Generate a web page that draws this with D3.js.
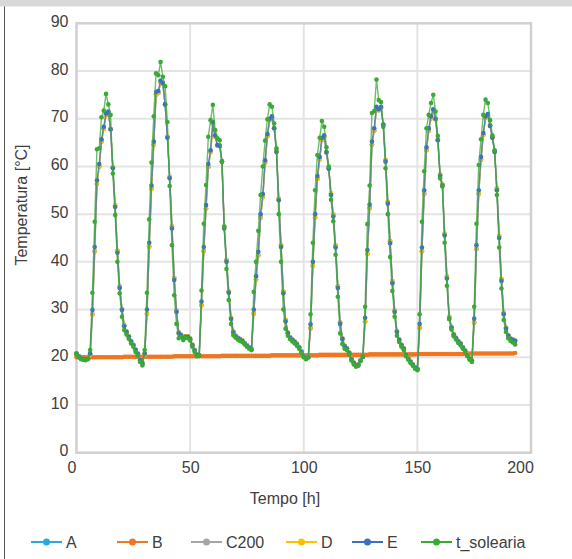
<!DOCTYPE html>
<html><head><meta charset="utf-8">
<script src="https://cdn.jsdelivr.net/npm/d3@7/dist/d3.min.js"></script>
<style>
body{margin:0;background:#fff;}
svg{display:block;}
text{font-family:"Liberation Sans",Arial,sans-serif;}
</style>
</head><body>
<svg id="c" width="572" height="559"></svg>
<script>
// ---------------- DATA ----------------
const seriesNames = ["A", "B", "C200", "D", "E", "t_solearia"];
const xTicks = [0, 50, 100, 150, 200];
const yTicks = [0, 10, 20, 30, 40, 50, 60, 70, 80, 90];
const xTitle = "Tempo [h]";
const yTitle = "Temperatura [°C]";

const tSolearia = [
20.6,20.0,19.6,19.5,19.4,19.6,21.5,33.5,48.4,63.6, 63.8,70.3,71.7,75.2,73.0,70.8,58.5,49.8,40.0,33.4, 28.5,25.7,24.8,23.9,22.9,22.2,21.1,20.4,19.0,18.3,
21.5,33.5,48.9,60.8,70.5,79.5,79.1,81.9,78.8,76.8, 69.3,55.9,43.5,33.0,27.0,24.0,24.3,23.6,24.1,24.0, 23.5,22.2,21.1,20.2,20.3,
34.0,48.0,56.1,66.2,69.7,72.9,67.6,65.9,65.5,61.0, 47.3,38.5,32.0,27.0,24.6,24.1,23.7,23.4,23.2,22.7, 22.2,21.8,21.5,
33.7,40.0,46.5,54.0,60.0,65.4,69.9,73.0,72.5,69.0, 63.8,50.0,40.0,30.0,26.0,24.5,23.8,23.3,22.9,22.4, 21.8,20.9,20.0,19.6,20.0,
29.0,44.0,55.0,62.4,66.0,69.5,68.3,64.0,60.0,53.0, 48.5,41.5,32.7,25.0,22.8,21.8,21.5,20.6,19.3,18.5, 18.0,18.2,19.2,20.1,
30.6,47.9,56.0,71.2,71.6,78.2,73.9,73.5,68.3,59.6, 50.0,41.0,33.9,28.5,24.5,23.2,22.2,21.5,20.2,19.5, 18.8,18.2,17.6,17.3,
29.0,48.4,59.0,68.0,70.8,73.3,75.0,71.5,66.4,57.5, 55.8,44.0,35.0,28.0,25.8,24.4,23.7,23.0,22.5,21.8, 21.1,20.2,19.5,19.0,
30.6,48.0,60.3,65.7,70.8,74.0,73.3,69.7,66.5,63.4, 54.0,43.0,34.4,27.8,25.3,24.0,23.4,23.1,22.7
];

const E = [
20.8,20.2,19.8,19.6,19.6,19.7,20.8,29.9,43.1,57.1, 60.5,65.7,68.3,71.1,71.5,67.8,59.6,51.5,41.9,34.5, 29.9,26.5,25.3,24.3,23.3,22.5,21.5,20.7,19.4,18.7,
20.8,30.0,44.0,56.0,65.2,75.6,75.8,78.0,77.5,73.0, 66.0,57.5,47.0,36.2,29.5,25.0,24.6,24.0,24.3,24.3, 23.8,22.5,21.4,20.5,20.4,
31.7,43.1,51.9,60.5,63.4,69.3,66.5,64.5,64.3,61.0, 47.0,40.0,33.5,28.0,25.2,24.4,24.0,23.7,23.4,22.9, 22.4,22.0,21.6,
30.0,37.0,42.1,50.0,54.2,61.3,66.8,70.0,70.5,68.0, 63.0,52.9,43.1,33.4,27.5,25.0,24.1,23.6,23.2,22.7, 22.0,21.1,20.2,19.8,20.0,
26.9,40.0,50.0,58.0,62.0,66.0,66.5,63.0,59.5,54.0, 49.5,43.0,34.5,27.0,23.8,22.3,21.8,20.9,19.6,18.8, 18.2,18.4,19.3,20.1,
28.3,42.5,52.0,65.2,68.0,72.5,72.0,72.5,68.7,61.0, 52.2,43.9,35.5,29.5,25.3,23.6,22.5,21.8,20.5,19.7, 19.0,18.4,17.8,17.5,
27.0,43.0,55.0,64.0,68.0,70.5,72.0,70.0,65.5,58.0, 56.0,45.5,36.5,28.1,26.2,24.7,24.0,23.3,22.8,22.0, 21.3,20.4,19.7,19.2,
28.1,43.5,55.0,62.0,67.0,70.5,71.0,68.5,66.0,63.0, 55.0,45.0,36.0,29.0,26.0,24.5,23.8,23.6,23.4
];

const D = [
20.8,20.2,19.8,19.6,19.6,19.7,20.6,29.0,42.2,56.3, 60.0,65.2,67.9,70.8,71.3,67.8,59.8,51.8,42.3,34.8, 30.1,26.7,25.4,24.4,23.4,22.6,21.6,20.8,19.5,18.8,
20.6,29.1,43.2,55.3,64.6,75.1,75.4,77.6,77.3,73.0, 66.2,57.8,47.4,36.6,29.8,25.2,24.7,24.1,24.4,24.4, 23.9,22.6,21.5,20.6,20.4,
30.9,42.3,51.2,59.9,63.0,68.9,66.3,64.4,64.3,61.1, 47.4,40.4,33.8,28.3,25.4,24.5,24.1,23.8,23.5,23.0, 22.5,22.1,21.7,
29.2,36.3,41.4,49.3,53.6,60.8,66.4,69.7,70.3,68.0, 63.2,53.2,43.5,33.8,27.8,25.2,24.2,23.7,23.3,22.8, 22.1,21.2,20.3,19.9,20.0,
26.1,39.2,49.3,57.4,61.5,65.6,66.2,62.9,59.6,54.3, 49.9,43.4,34.9,27.3,24.0,22.4,21.9,21.0,19.7,18.9, 18.3,18.5,19.3,20.1,
27.5,41.7,51.3,64.6,67.5,72.1,71.8,72.3,68.8,61.3, 52.6,44.3,35.9,29.8,25.5,23.7,22.6,21.9,20.6,19.8, 19.1,18.5,17.9,17.6,
26.2,42.2,54.3,63.4,67.5,70.1,71.7,69.9,65.6,58.3, 56.2,45.9,36.9,28.5,26.4,24.8,24.1,23.4,22.9,22.1, 21.4,20.5,19.8,19.3,
27.3,42.7,54.3,61.4,66.6,70.2,70.8,68.6,66.1,63.2, 55.4,45.4,36.4,29.3,26.2,24.6,23.9,23.7,23.5
];

const C200 = [
20.8,20.2,19.8,19.6,19.6,19.7,20.6,29.0,42.2,56.3, 60.0,65.2,67.9,70.8,71.3,67.8,59.8,51.8,42.3,34.8, 30.1,26.7,25.4,24.4,23.4,22.6,21.6,20.8,19.5,18.8,
20.6,29.1,43.2,55.3,64.6,75.1,75.4,77.6,77.3,73.0, 66.2,57.8,47.4,36.6,29.8,25.2,24.7,24.1,24.4,24.4, 23.9,22.6,21.5,20.6,20.4,
30.9,42.3,51.2,59.9,63.0,68.9,66.3,64.4,64.3,61.1, 47.4,40.4,33.8,28.3,25.4,24.5,24.1,23.8,23.5,23.0, 22.5,22.1,21.7,
29.2,36.3,41.4,49.3,53.6,60.8,66.4,69.7,70.3,68.0, 63.2,53.2,43.5,33.8,27.8,25.2,24.2,23.7,23.3,22.8, 22.1,21.2,20.3,19.9,20.0,
26.1,39.2,49.3,57.4,61.5,65.6,66.2,62.9,59.6,54.3, 49.9,43.4,34.9,27.3,24.0,22.4,21.9,21.0,19.7,18.9, 18.3,18.5,19.3,20.1,
27.5,41.7,51.3,64.6,67.5,72.1,71.8,72.3,68.8,61.3, 52.6,44.3,35.9,29.8,25.5,23.7,22.6,21.9,20.6,19.8, 19.1,18.5,17.9,17.6,
26.2,42.2,54.3,63.4,67.5,70.1,71.7,69.9,65.6,58.3, 56.2,45.9,36.9,28.5,26.4,24.8,24.1,23.4,22.9,22.1, 21.4,20.5,19.8,19.3,
27.3,42.7,54.3,61.4,66.6,70.2,70.8,68.6,66.1,63.2, 55.4,45.4,36.4,29.3,26.2,24.6,23.9,23.7,23.5
];

const A = [
20.8,20.2,19.8,19.6,19.6,19.7,20.6,29.0,42.2,56.3, 60.0,65.2,67.9,70.8,71.3,67.8,59.8,51.8,42.3,34.8, 30.1,26.7,25.4,24.4,23.4,22.6,21.6,20.8,19.5,18.8,
20.6,29.1,43.2,55.3,64.6,75.1,75.4,77.6,77.3,73.0, 66.2,57.8,47.4,36.6,29.8,25.2,24.7,24.1,24.4,24.4, 23.9,22.6,21.5,20.6,20.4,
30.9,42.3,51.2,59.9,63.0,68.9,66.3,64.4,64.3,61.1, 47.4,40.4,33.8,28.3,25.4,24.5,24.1,23.8,23.5,23.0, 22.5,22.1,21.7,
29.2,36.3,41.4,49.3,53.6,60.8,66.4,69.7,70.3,68.0, 63.2,53.2,43.5,33.8,27.8,25.2,24.2,23.7,23.3,22.8, 22.1,21.2,20.3,19.9,20.0,
26.1,39.2,49.3,57.4,61.5,65.6,66.2,62.9,59.6,54.3, 49.9,43.4,34.9,27.3,24.0,22.4,21.9,21.0,19.7,18.9, 18.3,18.5,19.3,20.1,
27.5,41.7,51.3,64.6,67.5,72.1,71.8,72.3,68.8,61.3, 52.6,44.3,35.9,29.8,25.5,23.7,22.6,21.9,20.6,19.8, 19.1,18.5,17.9,17.6,
26.2,42.2,54.3,63.4,67.5,70.1,71.7,69.9,65.6,58.3, 56.2,45.9,36.9,28.5,26.4,24.8,24.1,23.4,22.9,22.1, 21.4,20.5,19.8,19.3,
27.3,42.7,54.3,61.4,66.6,70.2,70.8,68.6,66.1,63.2, 55.4,45.4,36.4,29.3,26.2,24.6,23.9,23.7,23.5
];

const B = [
20.0,20.0,20.0,20.0,20.0,20.0,20.0,20.0,20.0,20.0,20.0,20.0,20.0,20.0,20.0,20.0,20.0,20.0,20.0,20.0,20.0,
20.1,20.1,20.1,20.1,20.1,20.1,20.1,20.1,20.1,20.1,20.1,20.1,20.1,20.1,20.1,20.1,20.1,20.1,20.1,20.1,20.1,20.1,
20.2,20.2,20.2,20.2,20.2,20.2,20.2,20.2,20.2,20.2,20.2,20.2,20.2,20.2,20.2,20.2,20.2,20.2,20.2,20.2,20.2,
20.3,20.3,20.3,20.3,20.3,20.3,20.3,20.3,20.3,20.3,20.3,20.3,20.3,20.3,20.3,20.3,20.3,20.3,20.3,20.3,20.3,20.3,
20.4,20.4,20.4,20.4,20.4,20.4,20.4,20.4,20.4,20.4,20.4,20.4,20.4,20.4,20.4,20.4,20.4,20.4,20.4,20.4,20.4,
20.5,20.5,20.5,20.5,20.5,20.5,20.5,20.5,20.5,20.5,20.5,20.5,20.5,20.5,20.5,20.5,20.5,20.5,20.5,20.5,20.5,20.5,
20.6,20.6,20.6,20.6,20.6,20.6,20.6,20.6,20.6,20.6,20.6,20.6,20.6,20.6,20.6,20.6,20.6,20.6,20.6,20.6,20.6,
20.7,20.7,20.7,20.7,20.7,20.7,20.7,20.7,20.7,20.7,20.7,20.7,20.7,20.7,20.7,20.7,20.7,20.7,20.7,20.7,20.7,20.7,
20.8,20.8,20.8,20.8,20.8,20.8,20.8,20.8,20.8,20.8,20.8,20.8,20.8,20.8,20.8,20.8,20.8,20.8,20.8,20.8,20.8,
20.9
];

// time stamps (hourly samples)
const hours = tSolearia.map((_, i) => i);

// ---------------- STYLE / LAYOUT ----------------
const colors = {A:"#2ba6de", B:"#ef7622", C200:"#a5a5a5", D:"#ffc000", E:"#3b6fc4", t_solearia:"#3aaa35"};
const seriesValues = {A, B, C200, D, E, t_solearia: tSolearia};

const svg = d3.select("#c");
const plot = {left: 76.5, right: 531, top: 23.3, bottom: 452.7};

const x = d3.scaleLinear().domain([0, 200]).range([plot.left, plot.right]);
const y = d3.scaleLinear().domain([0, 90]).range([plot.bottom, plot.top]);

// top grey band & left rule
svg.append("rect").attr("x", 0).attr("y", 0).attr("width", 572).attr("height", 6.5).attr("fill", "#d9d9d9");
svg.append("line").attr("x1", 4.5).attr("x2", 4.5).attr("y1", 6.5).attr("y2", 559).attr("stroke", "#555").attr("stroke-width", 1);

// gridlines
const grid = svg.append("g");
grid.selectAll(".hg").data(yTicks.filter(v => v > 0 && v < 90)).join("line")
  .attr("x1", plot.left).attr("x2", plot.right)
  .attr("y1", d => y(d)).attr("y2", d => y(d))
  .attr("stroke", "#e4e4e4").attr("stroke-width", 2);
grid.selectAll(".vg").data(xTicks.filter(v => v > 0 && v < 200)).join("line")
  .attr("y1", plot.top).attr("y2", plot.bottom)
  .attr("x1", d => x(d)).attr("x2", d => x(d))
  .attr("stroke", "#e4e4e4").attr("stroke-width", 2);

// frame
svg.append("rect").attr("x", plot.left).attr("y", plot.top)
  .attr("width", plot.right - plot.left).attr("height", plot.bottom - plot.top)
  .attr("fill", "none").attr("stroke", "#d0d0d0").attr("stroke-width", 2.5);

// axes (labels only)
const yAxis = d3.axisLeft(y).tickValues(yTicks).tickSize(0).tickPadding(8);
const gy = svg.append("g").attr("transform", `translate(${plot.left},0)`).call(yAxis);
gy.select(".domain").remove();
gy.selectAll("text").attr("font-size", 16).attr("fill", "#404040").attr("dy", "0.2em")
  .attr("font-family", '"Liberation Sans",Arial,sans-serif');

const xAxis = d3.axisBottom(x).tickValues(xTicks).tickSize(0).tickPadding(9);
const gx = svg.append("g").attr("transform", `translate(0,${plot.bottom})`).call(xAxis);
gx.select(".domain").remove();
gx.selectAll("text").attr("font-size", 16).attr("fill", "#404040")
  .attr("font-family", '"Liberation Sans",Arial,sans-serif')
  .attr("dx", d => d === 0 ? -5 : (d === 200 ? -11 : 0));

// titles
svg.append("text").attr("x", 285).attr("y", 504).attr("text-anchor", "middle")
  .attr("font-size", 16).attr("fill", "#404040").text(xTitle);
svg.append("text").attr("transform", "translate(27,205) rotate(-90)").attr("text-anchor", "middle")
  .attr("font-size", 16).attr("fill", "#404040").text(yTitle);

// series
const line = d3.line().x((d, i) => x(hours[i])).y(d => y(d));
const sg = svg.append("g");
seriesNames.forEach(name => {
  const vals = seriesValues[name];
  const g = sg.append("g");
  g.append("path").datum(vals).attr("d", line).attr("fill", "none")
    .attr("stroke", colors[name]).attr("stroke-width", name === "B" ? 2 : 1.4)
    .attr("stroke-opacity", name === "B" ? 1 : 0.75);
  g.selectAll("circle").data(vals).join("circle")
    .attr("cx", (d, i) => x(hours[i])).attr("cy", d => y(d))
    .attr("r", 2.3).attr("fill", colors[name]);
});

// legend
const legendX = [31, 117, 191, 286, 352, 421];
const legendY = 542;
const lg = svg.append("g");
seriesNames.forEach((name, i) => {
  const x0 = legendX[i];
  lg.append("line").attr("x1", x0).attr("x2", x0 + 31).attr("y1", legendY).attr("y2", legendY)
    .attr("stroke", colors[name]).attr("stroke-width", 2);
  lg.append("circle").attr("cx", x0 + 15.5).attr("cy", legendY).attr("r", 3.5).attr("fill", colors[name]);
  lg.append("text").attr("x", x0 + 35).attr("y", legendY).attr("dy", "0.36em")
    .attr("font-size", 16).attr("fill", "#404040").text(name);
});
</script>
</body></html>
